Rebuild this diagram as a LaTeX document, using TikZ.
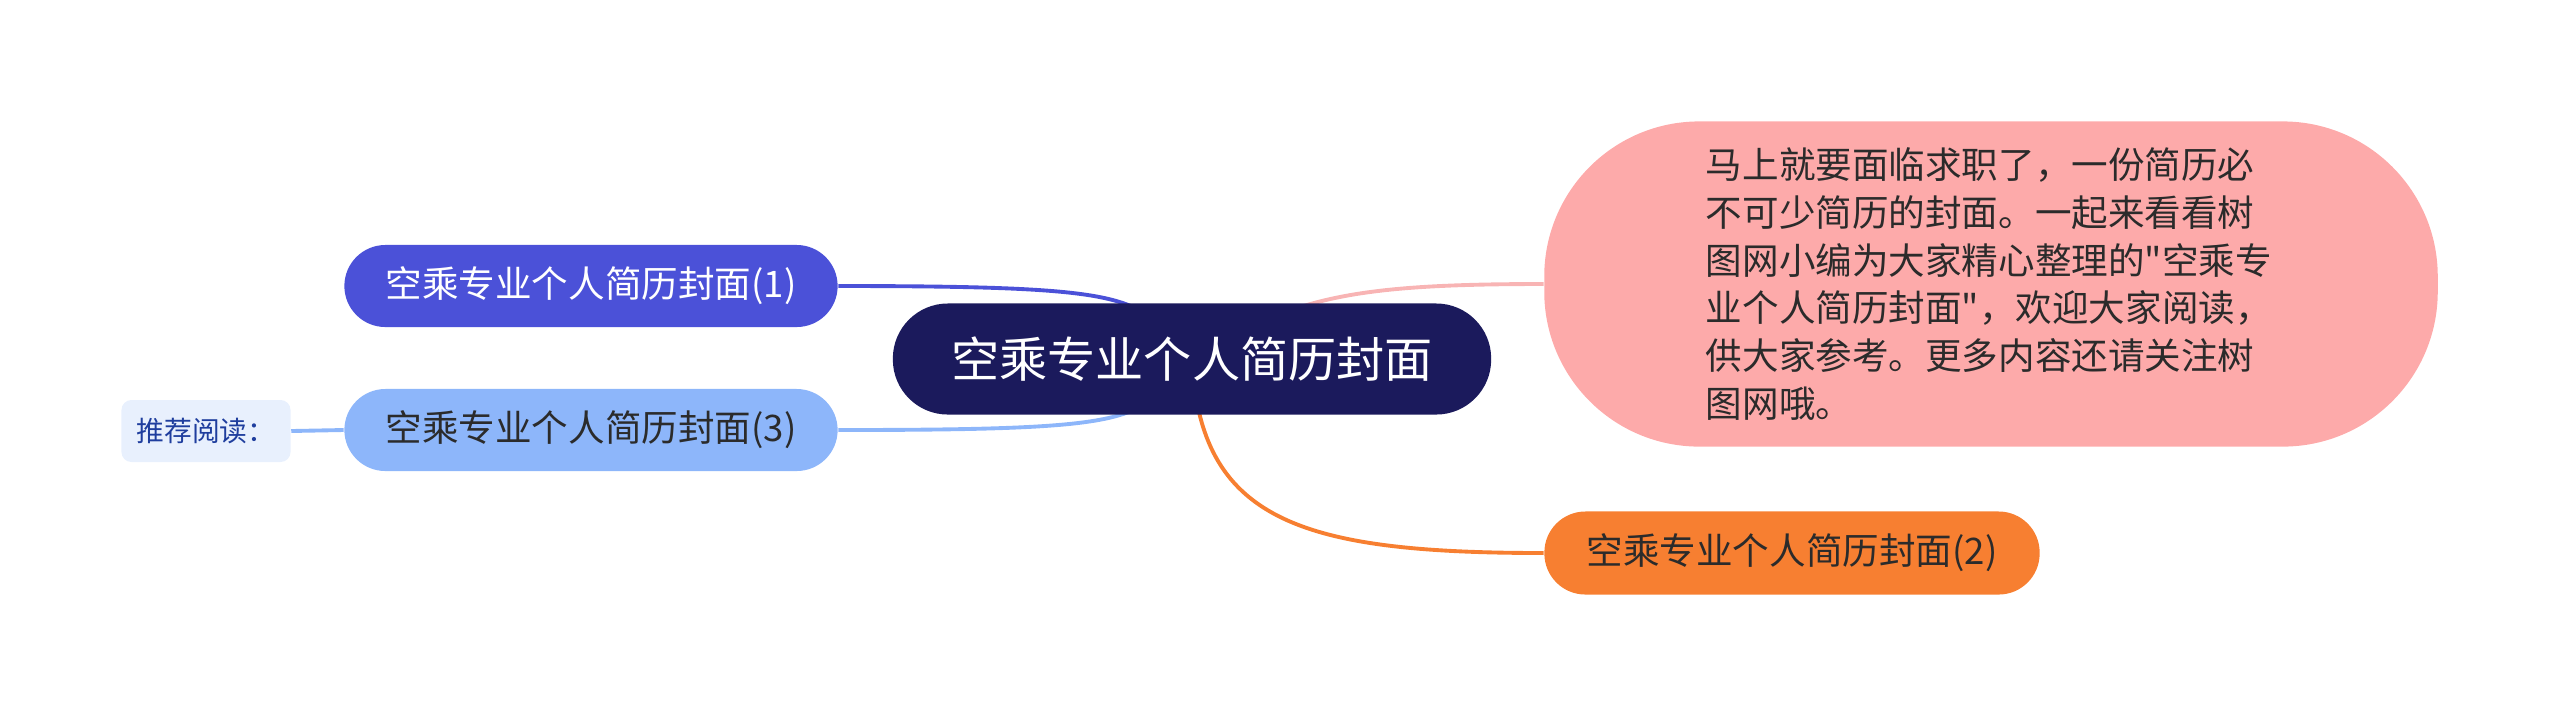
\documentclass[tikz,border=0pt]{standalone}
\usepackage{fontspec}
\setmainfont{Noto Sans CJK SC}[Ligatures=TeXOff]
\usetikzlibrary{backgrounds}

\definecolor{rootc}{HTML}{1B1A5C}
\definecolor{onec}{HTML}{4B51D8}
\definecolor{threec}{HTML}{8DB6FA}
\definecolor{notec}{HTML}{FDAAAA}
\definecolor{notel}{HTML}{F8B4B4}
\definecolor{twoc}{HTML}{F77F31}
\definecolor{readc}{HTML}{E8F0FD}
\definecolor{readt}{HTML}{1F3E9E}
\definecolor{darkt}{HTML}{2B2B2B}

\tikzset{
    root/.style={fill=rootc, text=white, inner sep=0pt, rounded corners=0.55cm,
      minimum width=5.98cm, minimum height=1.11cm, font=\fontsize{13.7}{16}\selectfont},
    sub/.style={inner sep=0pt, rounded corners=0.41cm, minimum width=4.93cm,
      minimum height=0.82cm, font=\fontsize{10.4}{13}\selectfont},
    note/.style={fill=notec, text=darkt, inner sep=0pt, rounded corners=1.55cm,
      minimum width=8.93cm, minimum height=3.25cm, text width=5.7cm, align=left,
      font=\fontsize{10.4}{13.6}\selectfont},
    tagbox/.style={fill=readc, text=readt, inner sep=0pt, rounded corners=0.1cm,
      minimum width=1.69cm, minimum height=0.62cm, font=\fontsize{7.9}{9}\selectfont},
    link/.style={line width=1.1pt},
  }

\begin{document}
\begin{tikzpicture}[x=0.01cm, y=-0.01cm]
    \useasboundingbox (0,0) rectangle (2560,717);
    % centre and branches
    \node[root] (c) at (1192,359) {空乘专业个人简历封面};
    \node[sub, fill=onec, text=white] (b1) at (591,286) {空乘专业个人简历封面(1)};
    \node[sub, fill=threec, text=darkt] (b3) at (591,430) {空乘专业个人简历封面(3)};
    \node[tagbox] (rd) at (206,431) {推荐阅读：};
    \node[sub, fill=twoc, text=darkt, minimum width=4.95cm, minimum height=0.83cm] (b2) at (1792,553) {空乘专业个人简历封面(2)};
    \node[note] (nt) at (1991,284) {马上就要面临求职了，一份简历必\\
      不可少简历的封面。一起来看看树\\
      图网小编为大家精心整理的"空乘专\\
      业个人简历封面"，欢迎大家阅读，\\
      供大家参考。更多内容还请关注树\\
      图网哦。};
    % connectors
    \begin{scope}[on background layer]
        \draw[link, onec] (b1.east) .. controls +(320,0) and +(-60,-60) .. (c.center);
        \draw[link, threec] (b3.east) .. controls +(320,0) and +(-60,60) .. (c.center);
        \draw[link, notel] (nt.west) .. controls +(-200,0) and +(100,-60) .. (c.center);
        \draw[link, twoc] (c.center) .. controls +(8,161) and +(-245,0) .. (b2.west);
        \draw[link, threec] (rd.east) -- (b3.west);
    \end{scope}
\end{tikzpicture}
\end{document}
